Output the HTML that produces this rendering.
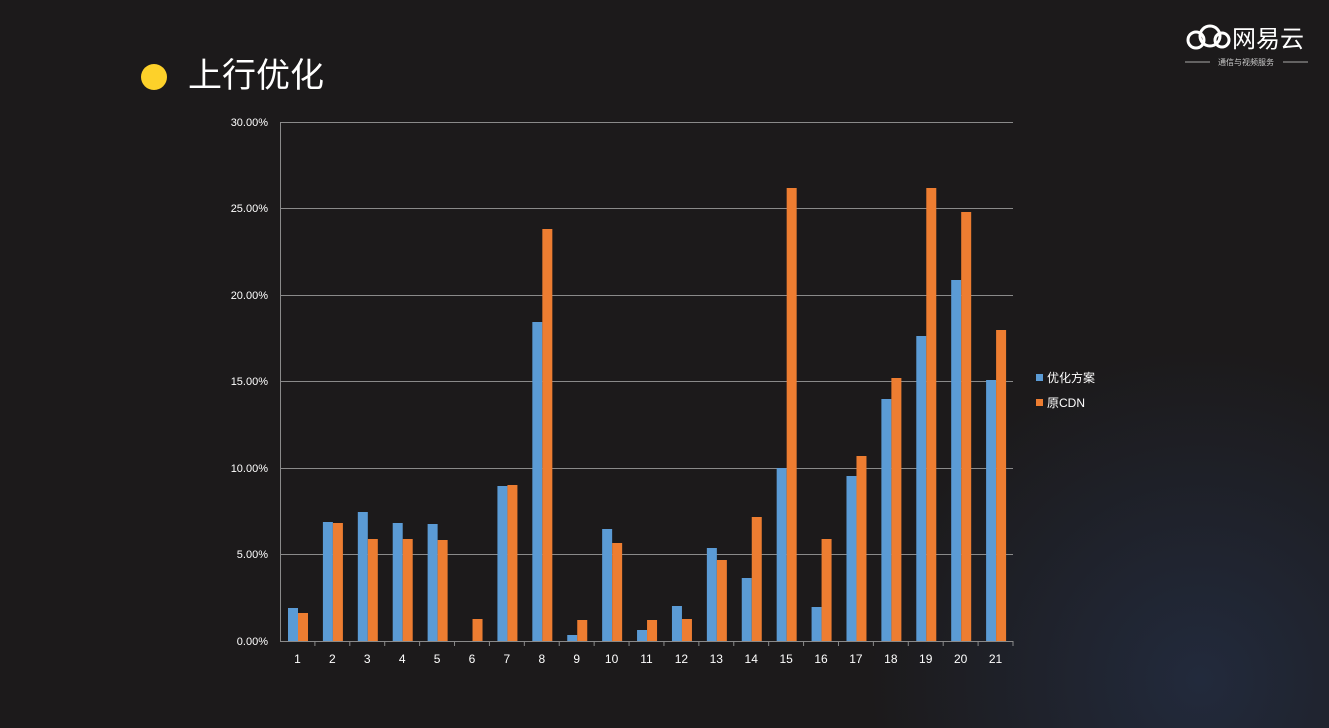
<!DOCTYPE html>
<html><head><meta charset="utf-8"><style>
body{margin:0;width:1329px;height:728px;overflow:hidden;background:#1c1a1b;font-family:"Liberation Sans","Noto Sans CJK SC",sans-serif;}
</style></head><body>
<svg width="1329" height="728" xmlns="http://www.w3.org/2000/svg" style="position:absolute;left:0;top:0">
<defs><radialGradient id="g" cx="1200" cy="680" r="330" gradientUnits="userSpaceOnUse"><stop offset="0" stop-color="#222a3c"/><stop offset="1" stop-color="#1c1a1b"/></radialGradient></defs>
<rect width="1329" height="728" fill="url(#g)"/>
<circle cx="154" cy="77" r="13" fill="#fdd12a"/>
<text x="188" y="87" fill="#fff" font-size="34" font-family="Liberation Sans,Noto Sans CJK SC,sans-serif">上行优化</text>
<text x="1232" y="47" fill="#fff" font-size="24" font-family="Liberation Sans,Noto Sans CJK SC,sans-serif">网易云</text>
<circle cx="1196" cy="40" r="8" fill="none" stroke="#fff" stroke-width="3"/><circle cx="1210" cy="36" r="10" fill="none" stroke="#fff" stroke-width="3"/><circle cx="1222" cy="40" r="7" fill="none" stroke="#fff" stroke-width="3"/>
<line x1="1185" y1="62" x2="1210" y2="62" stroke="#aaa"/><line x1="1283" y1="62" x2="1308" y2="62" stroke="#aaa"/>
<text x="1246" y="65" fill="#ccc" font-size="8" text-anchor="middle" font-family="Liberation Sans,Noto Sans CJK SC,sans-serif">通信与视频服务</text>
<g stroke="#8a8a8a" stroke-width="1">
<line x1="280" y1="122.5" x2="1013" y2="122.5"/><line x1="280" y1="208.5" x2="1013" y2="208.5"/><line x1="280" y1="295.5" x2="1013" y2="295.5"/><line x1="280" y1="381.5" x2="1013" y2="381.5"/><line x1="280" y1="468.5" x2="1013" y2="468.5"/><line x1="280" y1="554.5" x2="1013" y2="554.5"/><line x1="280" y1="641.5" x2="1013" y2="641.5"/>
<line x1="280.5" y1="122" x2="280.5" y2="641"/>
</g>
<g fill="#fff" font-size="11" text-anchor="end">
<text x="268" y="126">30.00%</text><text x="268" y="212">25.00%</text><text x="268" y="299">20.00%</text><text x="268" y="385">15.00%</text><text x="268" y="472">10.00%</text><text x="268" y="558">5.00%</text><text x="268" y="645">0.00%</text>
</g>
<g id="bars"></g>
<g id="ticks" stroke="#8a8a8a"></g>
<g id="labels" fill="#fff" font-size="12" text-anchor="middle"></g>
<rect x="1036" y="374" width="7" height="7" fill="#5b9bd5"/><text x="1047" y="382" fill="#fff" font-size="12" font-family="Liberation Sans,Noto Sans CJK SC,sans-serif">优化方案</text>
<rect x="1036" y="399" width="7" height="7" fill="#ed7d31"/><text x="1047" y="407" fill="#fff" font-size="12" font-family="Liberation Sans,Noto Sans CJK SC,sans-serif">原CDN</text>
</svg>
<script>
var b=[608,522,512,523,524,641,486,322,635,529,630,606,548,578,468,607,476,399,336,280,380];
var o=[613,523,539,539,540,619,485,229,620,543,620,619,560,517,188,539,456,378,188,212,330];
var s="",w=733/21,t="",l="";
for(var i=0;i<21;i++){var x=280+i*w;
s+='<rect x="'+(x+8)+'" y="'+b[i]+'" width="10" height="'+(641-b[i])+'" fill="#5b9bd5"/>';
s+='<rect x="'+(x+18)+'" y="'+o[i]+'" width="10" height="'+(641-o[i])+'" fill="#ed7d31"/>';
t+='<line x1="'+(x+w)+'" y1="641" x2="'+(x+w)+'" y2="646"/>';
l+='<text x="'+(x+w/2)+'" y="663">'+(i+1)+'</text>';}
document.getElementById('bars').innerHTML=s;document.getElementById('ticks').innerHTML=t;document.getElementById('labels').innerHTML=l;
</script>
</body></html>
